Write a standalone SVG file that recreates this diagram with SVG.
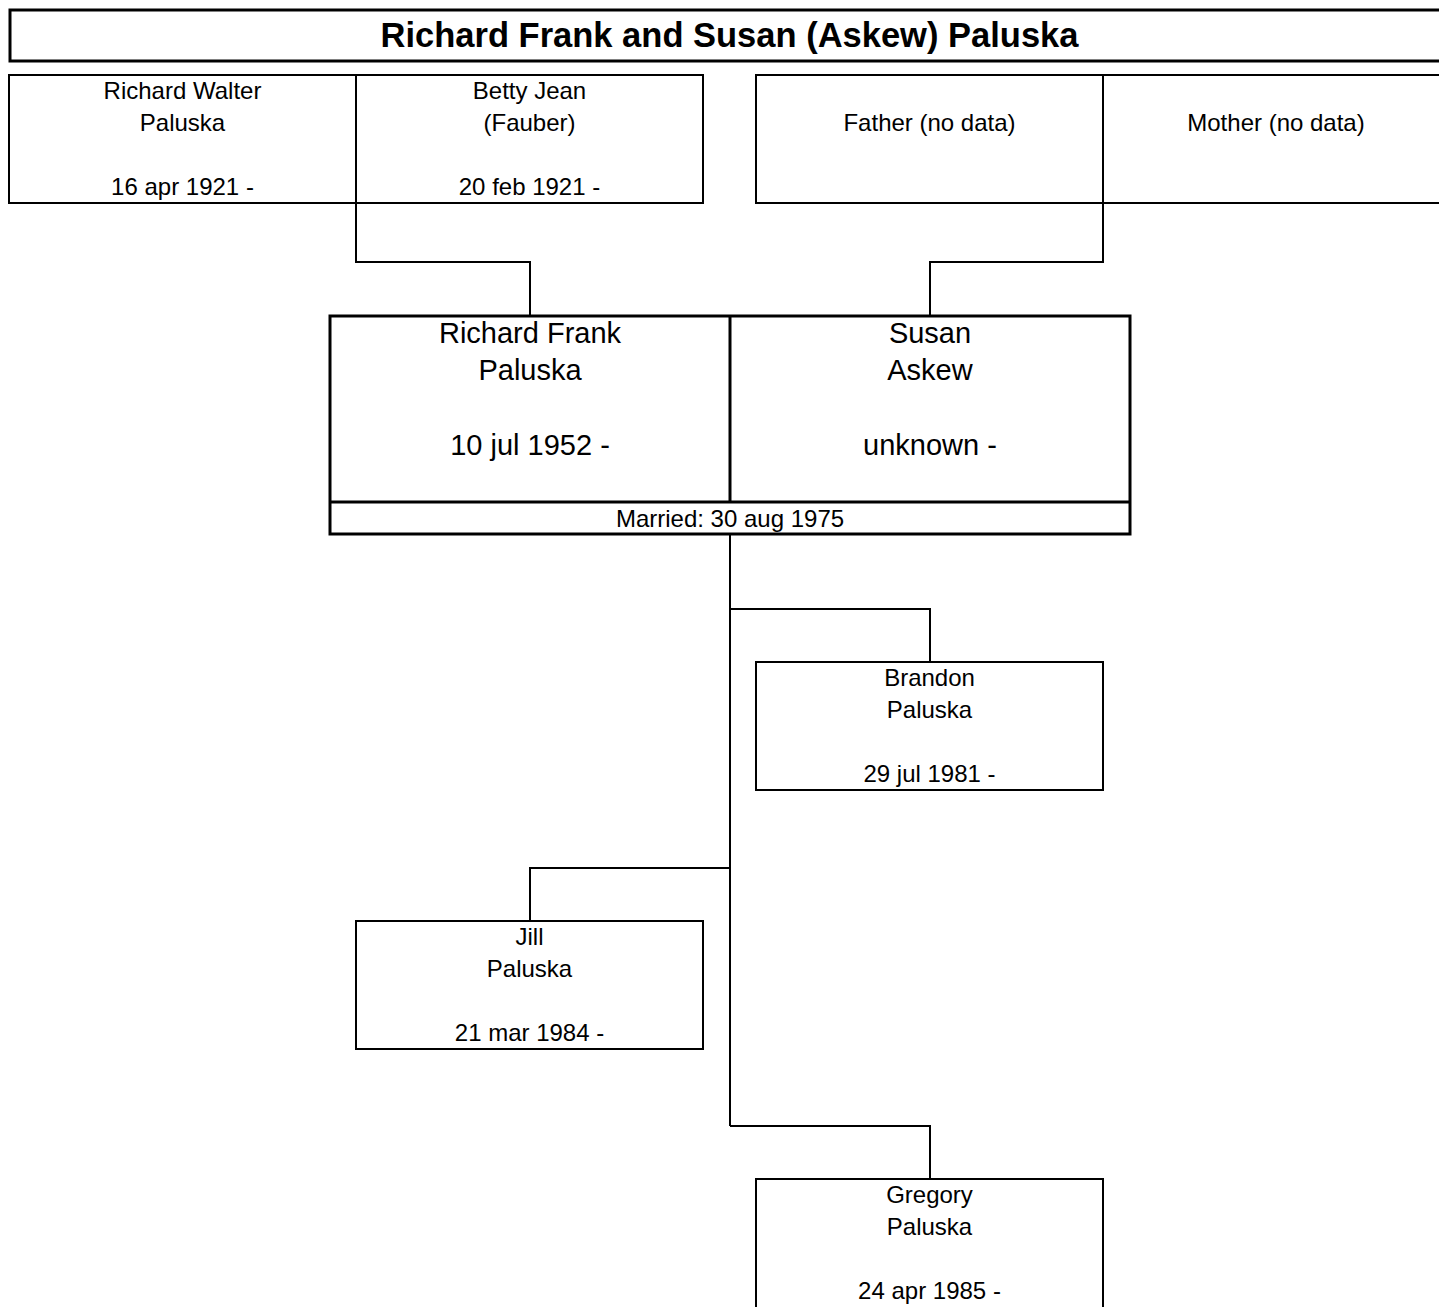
<svg xmlns="http://www.w3.org/2000/svg" width="1439" height="1307" viewBox="0 0 1439 1307">
<style>
text{font-family:"Liberation Sans",Arial,Helvetica,sans-serif;fill:#000;text-anchor:middle}
.t{font-size:34.5px;font-weight:bold}
.s{font-size:24px}
.c{font-size:29px}
.m{font-size:24px}
.box{fill:#fff;stroke:#000;stroke-width:2}
.bold{fill:#fff;stroke:#000;stroke-width:3}
.conn{fill:none;stroke:#000;stroke-width:2}
</style>
<rect width="1439" height="1307" fill="#fff"/>
<g id="connectors">
<polyline class="conn" points="356,203 356,262 530,262 530,316"/>
<polyline class="conn" points="1103,203 1103,262 930,262 930,316"/>
<polyline class="conn" points="730,534 730,1126"/>
<polyline class="conn" points="730,609 930,609 930,662"/>
<polyline class="conn" points="730,868 530,868 530,921"/>
<polyline class="conn" points="730,1126 930,1126 930,1179"/>
</g>
<g id="title">
<rect class="bold" x="10" y="10" width="1439" height="51"/>
<text class="t" x="729.5" y="47">Richard Frank and Susan (Askew) Paluska</text>
</g>
<g id="gf-paternal">
<rect class="box" x="9" y="75" width="347" height="128"/>
<text class="s" x="182.5" y="99">Richard Walter</text>
<text class="s" x="182.5" y="131">Paluska</text>
<text class="s" x="182.5" y="195">16 apr 1921 -</text>
</g>
<g id="gm-paternal">
<rect class="box" x="356" y="75" width="347" height="128"/>
<text class="s" x="529.5" y="99">Betty Jean</text>
<text class="s" x="529.5" y="131">(Fauber)</text>
<text class="s" x="529.5" y="195">20 feb 1921 -</text>
</g>
<g id="gf-maternal">
<rect class="box" x="756" y="75" width="347" height="128"/>
<text class="s" x="929.5" y="131">Father (no data)</text>
</g>
<g id="gm-maternal">
<rect class="box" x="1103" y="75" width="347" height="128"/>
<text class="s" x="1276" y="131">Mother (no data)</text>
</g>
<g id="couple">
<rect class="bold" x="330" y="316" width="800" height="218"/>
<line class="bold" x1="730" y1="316" x2="730" y2="502"/>
<line class="bold" x1="330" y1="502" x2="1130" y2="502"/>
<text class="c" x="530" y="343">Richard Frank</text>
<text class="c" x="530" y="380">Paluska</text>
<text class="c" x="530" y="455">10 jul 1952 -</text>
<text class="c" x="930" y="343">Susan</text>
<text class="c" x="930" y="380">Askew</text>
<text class="c" x="930" y="455">unknown -</text>
<text class="m" x="730" y="527">Married: 30 aug 1975</text>
</g>
<g id="child-brandon">
<rect class="box" x="756" y="662" width="347" height="128"/>
<text class="s" x="929.5" y="686">Brandon</text>
<text class="s" x="929.5" y="718">Paluska</text>
<text class="s" x="929.5" y="782">29 jul 1981 -</text>
</g>
<g id="child-jill">
<rect class="box" x="356" y="921" width="347" height="128"/>
<text class="s" x="529.5" y="945">Jill</text>
<text class="s" x="529.5" y="977">Paluska</text>
<text class="s" x="529.5" y="1041">21 mar 1984 -</text>
</g>
<g id="child-gregory">
<rect class="box" x="756" y="1179" width="347" height="131"/>
<text class="s" x="929.5" y="1203">Gregory</text>
<text class="s" x="929.5" y="1235">Paluska</text>
<text class="s" x="929.5" y="1299">24 apr 1985 -</text>
</g>
</svg>
